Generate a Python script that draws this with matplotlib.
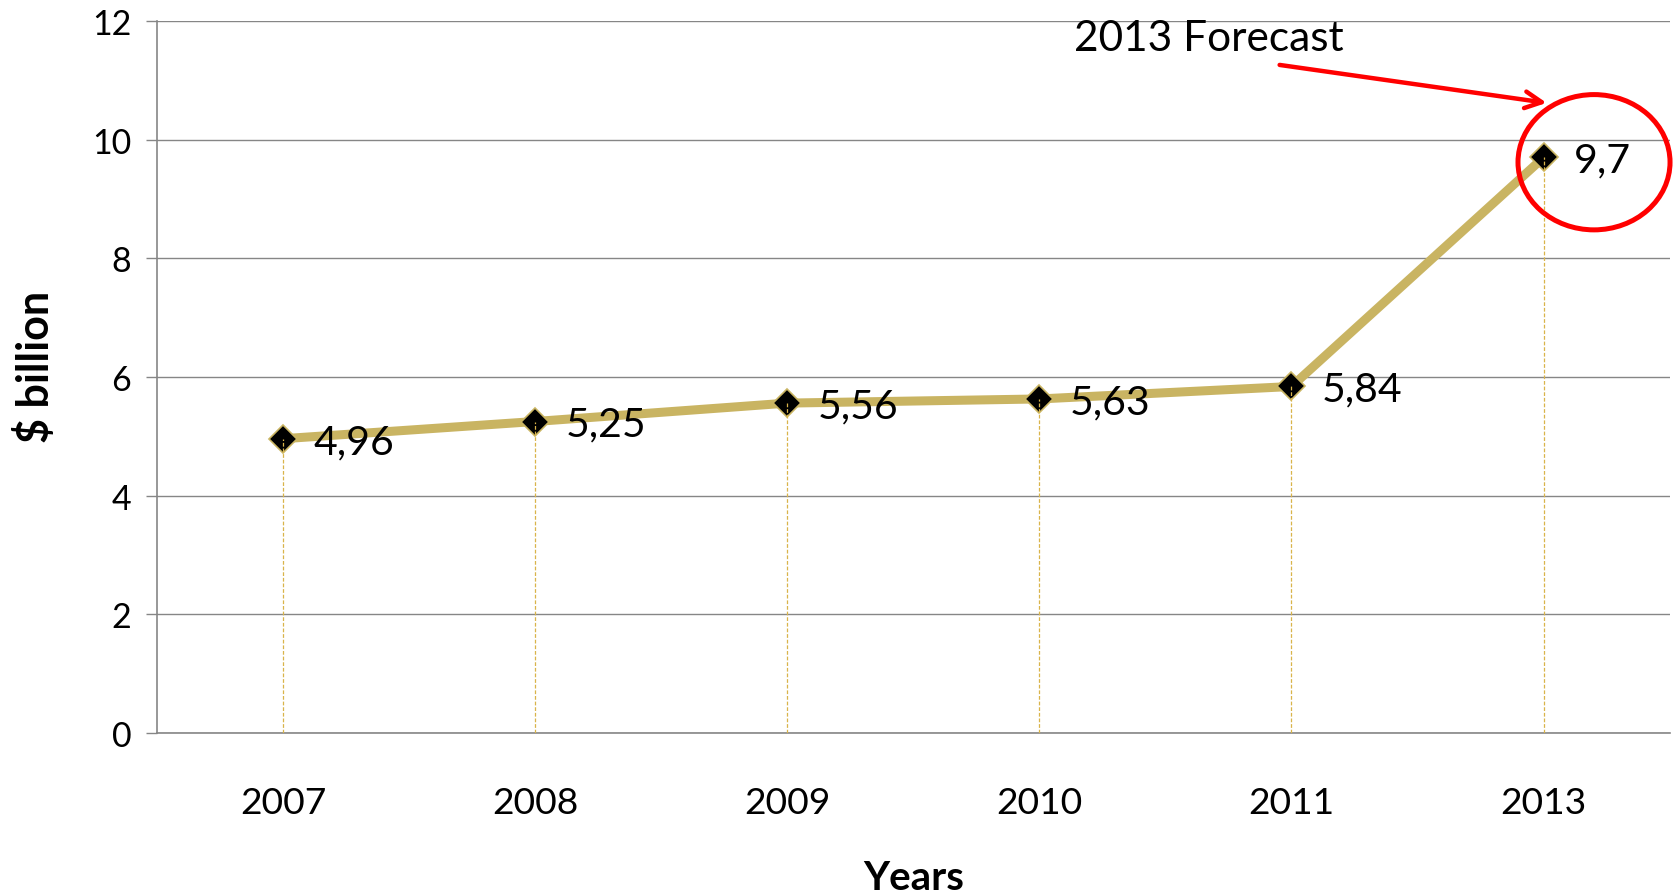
import matplotlib.pyplot as plt
from matplotlib.patches import Ellipse

plt.rcParams['font.family'] = ['Lato', 'DejaVu Sans']

years = ['2007', '2008', '2009', '2010', '2011', '2013']
values = [4.96, 5.25, 5.56, 5.63, 5.84, 9.7]
value_labels = ['4,96', '5,25', '5,56', '5,63', '5,84', '9,7']
y_ticks = [0, 2, 4, 6, 8, 10, 12]

gold = '#C9B462'
grid_grey = '#868686'
red = '#FF0000'

fig = plt.figure(figsize=(16.73, 8.95), dpi=100)
ax = fig.add_axes([0.0938, 0.1799, 0.9042, 0.7955])

x = list(range(len(years)))

# main series: thick gold line with black diamonds
ax.plot(x, values, color=gold, lw=6.5, solid_capstyle='round', zorder=3)
ax.plot(x, values, ls='none', marker='D', markersize=14,
        markerfacecolor='black', markeredgecolor=gold, markeredgewidth=1.2, zorder=4)

# dashed drop lines down to the axis
ax.vlines(x, 0, values, colors='#D9B44A', linestyles=(0, (3, 1.5)), lw=0.9, zorder=5)

for xi, v, lab in zip(x, values, value_labels):
    ax.annotate(lab, (xi, v), xytext=(22, -2), textcoords='offset points',
                ha='left', va='center', fontsize=29.5, color='black', zorder=6)

ax.set_xlim(-0.5, len(years) - 0.5)
ax.set_ylim(0, 12)
ax.set_yticks(y_ticks)
ax.set_yticklabels([str(t) for t in y_ticks])
ax.set_xticks(x)
ax.set_xticklabels(years)

ax.yaxis.grid(True, color=grid_grey, lw=1.0)
ax.set_axisbelow(True)

for side in ['top', 'right']:
    ax.spines[side].set_visible(False)
for side in ['left', 'bottom']:
    ax.spines[side].set_color(grid_grey)
    ax.spines[side].set_linewidth(1.2)

ax.tick_params(axis='y', length=8, width=1.0, color=grid_grey, pad=10.5, labelsize=24.5)
ax.tick_params(axis='x', length=0, pad=38, labelsize=26.8)

ax.set_xlabel('Years', fontsize=29, fontweight='bold', labelpad=29)
ax.set_ylabel('$ billion', fontsize=31, fontweight='bold', labelpad=26)
ax.yaxis.label.set_y(0.515)

# forecast highlight
ax.add_patch(Ellipse((5.2, 9.62), 0.603, 2.28, fill=False, edgecolor=red,
                     lw=3.6, clip_on=False, zorder=7))
ax.annotate('', xy=(5.012, 10.62), xytext=(3.953, 11.26),
            arrowprops=dict(arrowstyle='->', color=red, lw=3.2,
                            mutation_scale=30, shrinkA=0, shrinkB=0),
            annotation_clip=False, zorder=7)
ax.text(3.136, 11.72, '2013 Forecast', fontsize=30.5, ha='left', va='center',
        color='black', zorder=7, clip_on=False)

fig.savefig('out.png', dpi=100)
